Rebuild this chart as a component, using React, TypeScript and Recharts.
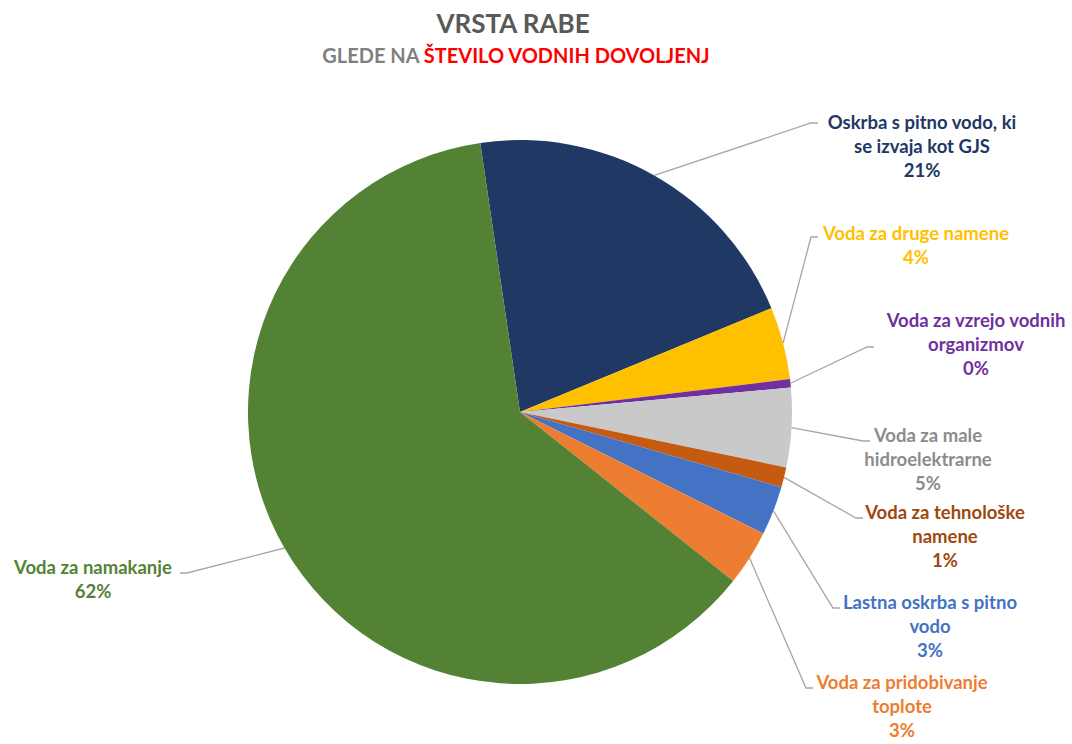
import { Pie, PieChart, Cell } from "recharts";

const categories = [
  "Oskrba s pitno vodo, ki se izvaja kot GJS",
  "Voda za druge namene",
  "Voda za vzrejo vodnih organizmov",
  "Voda za male hidroelektrarne",
  "Voda za tehnološke namene",
  "Lastna oskrba s pitno vodo",
  "Voda za pridobivanje toplote",
  "Voda za namakanje",
];
const shares = [21.1, 4.3, 0.5, 4.7, 1.2, 2.9, 3.3, 62.0];
const percentLabels = ["21%", "4%", "0%", "5%", "1%", "3%", "3%", "62%"];
const labelLines = [
  ["Oskrba s pitno vodo, ki", "se izvaja kot GJS"],
  ["Voda za druge namene"],
  ["Voda za vzrejo vodnih", "organizmov"],
  ["Voda za male", "hidroelektrarne"],
  ["Voda za tehnološke", "namene"],
  ["Lastna oskrba s pitno", "vodo"],
  ["Voda za pridobivanje", "toplote"],
  ["Voda za namakanje"],
];

const sliceColors = ["#203864", "#FFC000", "#7030A0", "#C9C9C9", "#C55A11", "#4472C4", "#ED7D31", "#548235"];
const textColors = ["#203864", "#FFC000", "#7030A0", "#8C8C8C", "#9E480E", "#4472C4", "#ED7D31", "#548235"];

// label placement: where the leader line ends, text centre and first baseline
const labelLayout = [
  { ex: 818, ey: 123, tx: 922, ty: 129 },
  { ex: 818, ey: 237, tx: 916, ty: 240 },
  { ex: 874, ey: 347, tx: 976, ty: 327 },
  { ex: 870, ey: 441, tx: 928, ty: 442 },
  { ex: 863, ey: 518, tx: 945, ty: 519 },
  { ex: 840, ey: 608, tx: 930, ty: 609 },
  { ex: 813, ey: 688, tx: 902, ty: 689 },
  { ex: 180, ey: 573, tx: 93, ty: 574 },
];

const FONT = "Lato, 'Open Sans', sans-serif";
const RAD = Math.PI / 180;

const data = categories.map((name, i) => ({ name, value: shares[i] }));

function SliceLabel(props: any) {
  const { cx, cy, midAngle, outerRadius, index } = props;
  const pos = labelLayout[index];
  const sx = cx + outerRadius * Math.cos(-midAngle * RAD);
  const sy = cy + outerRadius * Math.sin(-midAngle * RAD);
  const elbowX = pos.ex < cx ? pos.ex + 7 : pos.ex - 7;
  const lines = [...labelLines[index], percentLabels[index]];
  return (
    <g>
      <polyline
        points={`${sx},${sy} ${elbowX},${pos.ey} ${pos.ex},${pos.ey}`}
        fill="none"
        stroke="#A6A6A6"
        strokeWidth={1.3}
      />
      <text
        x={pos.tx}
        y={pos.ty}
        textAnchor="middle"
        fill={textColors[index]}
        fontFamily={FONT}
        fontSize={18.5}
        fontWeight={700}
      >
        {lines.map((l, j) => (
          <tspan key={j} x={pos.tx} dy={j === 0 ? 0 : 24}>
            {l}
          </tspan>
        ))}
      </text>
    </g>
  );
}

export default function App() {
  return (
    <div style={{ position: "absolute", left: 0, top: 0, background: "#fff" }}>
      <PieChart width={1072} height={744} margin={{ top: 0, right: 0, bottom: 0, left: 0 }}>
        <text x={513} y={33} textAnchor="middle" fill="#595959" fontFamily={FONT} fontSize={26} fontWeight={700}>
          VRSTA RABE
        </text>
        <text x={516} y={63} textAnchor="middle" fontFamily={FONT} fontSize={20} fontWeight={700}>
          <tspan fill="#7F7F7F">GLEDE NA </tspan>
          <tspan fill="#FF0000">ŠTEVILO VODNIH DOVOLJENJ</tspan>
        </text>
        <Pie
          data={data}
          dataKey="value"
          nameKey="name"
          cx={520}
          cy={412}
          outerRadius={272}
          startAngle={98.4}
          endAngle={-261.6}
          stroke="none"
          label={SliceLabel}
          labelLine={false}
          isAnimationActive={false}
        >
          {data.map((d, i) => (
            <Cell key={d.name} fill={sliceColors[i]} />
          ))}
        </Pie>
      </PieChart>
    </div>
  );
}
